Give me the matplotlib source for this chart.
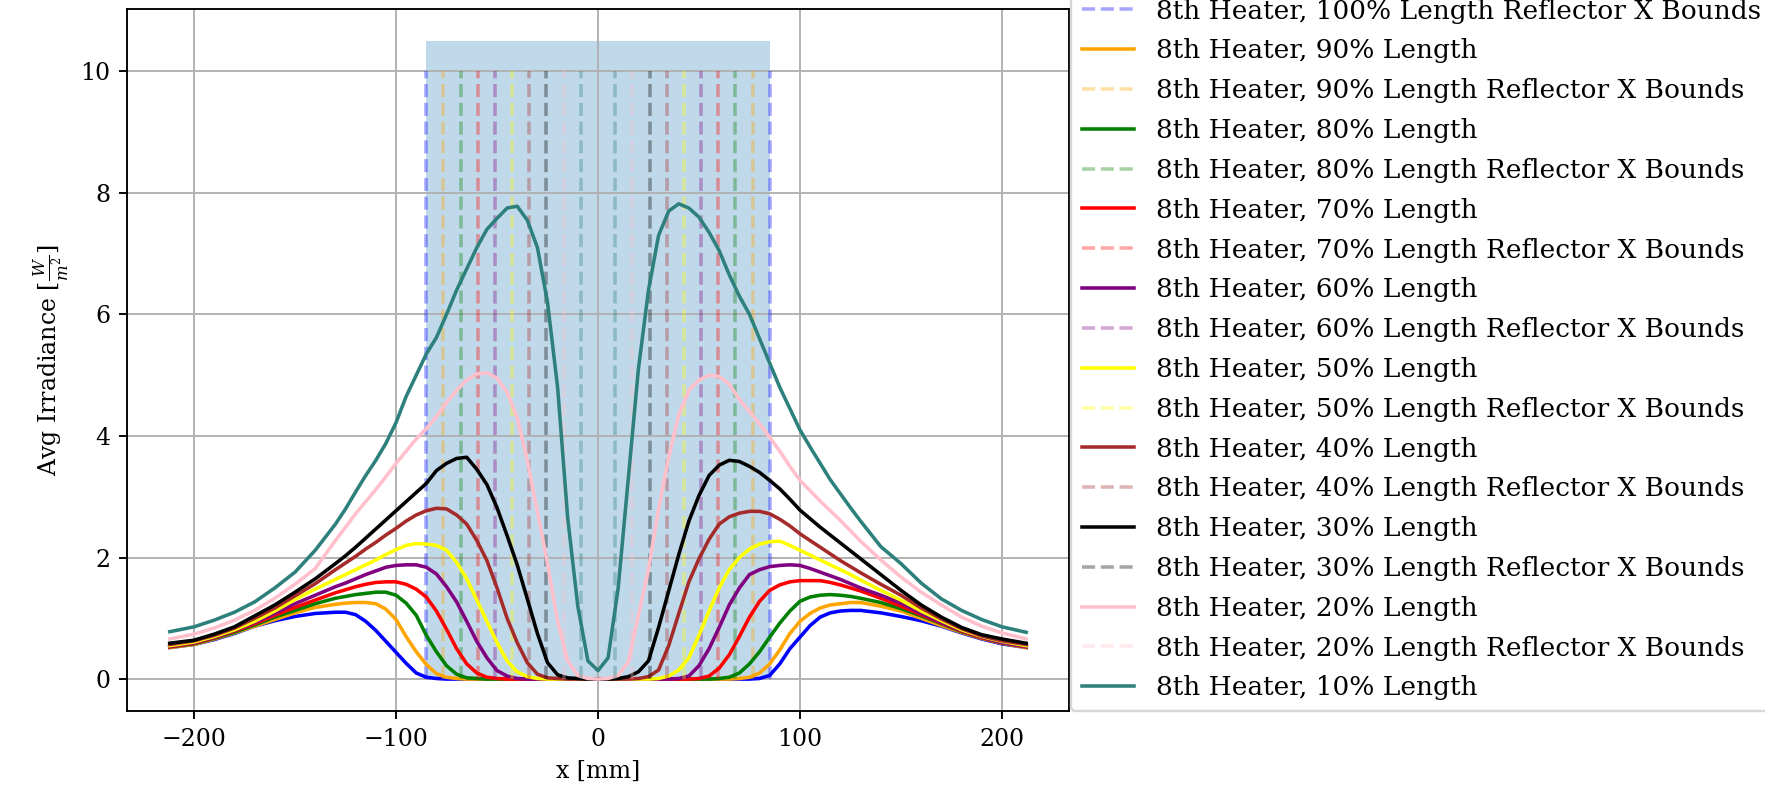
import matplotlib
matplotlib.use("Agg")
import matplotlib.pyplot as plt

plt.rcParams['font.family'] = ['DejaVu Serif']
plt.rcParams['mathtext.fontset'] = 'dejavuserif'

# x positions (mm) shared by all series
x_mm = [-212, -200, -190, -180, -170, -160, -150, -140, -130,
        -125, -120, -115, -110, -105, -100, -95, -90, -85, -80, -75, -70, -65, -60, -55, -50,
        -45, -40, -35, -30, -25, -20, -15, -10, -5,
        0,
        5, 10, 15, 20, 25, 30, 35, 40, 45, 50, 55, 60, 65, 70, 75, 80, 85, 90, 95, 100,
        105, 110, 115, 120, 125,
        130, 140, 150, 160, 170, 180, 190, 200, 212]

lengths = [100, 90, 80, 70, 60, 50, 40, 30, 20, 10]
colors = ['blue', 'orange', 'green', 'red', 'purple', 'yellow', 'brown', 'black', 'pink', '#2e807c']
reflector_half_width = 85  # mm at 100% length

irr_100 = [0.52, 0.57, 0.65, 0.75, 0.87, 0.96, 1.03, 1.08, 1.10,
           1.10, 1.06, 0.95, 0.80, 0.62, 0.44, 0.26, 0.10, 0.03, 0.01, 0, 0, 0, 0, 0, 0,
           0, 0, 0, 0, 0, 0, 0, 0, 0,
           0,
           0, 0, 0, 0, 0, 0, 0, 0, 0, 0, 0, 0, 0, 0, 0, 0.01, 0.06, 0.25, 0.50, 0.69,
           0.88, 1.02, 1.09, 1.12, 1.13,
           1.13, 1.09, 1.03, 0.96, 0.87, 0.76, 0.66, 0.58, 0.52]
irr_90 = [0.52, 0.57, 0.66, 0.76, 0.87, 0.98, 1.09, 1.18, 1.23,
          1.25, 1.26, 1.26, 1.24, 1.15, 0.98, 0.70, 0.45, 0.24, 0.09, 0.03, 0.01, 0, 0, 0, 0,
          0, 0, 0, 0, 0, 0, 0, 0, 0,
          0,
          0, 0, 0, 0, 0, 0, 0, 0, 0, 0, 0, 0, 0, 0.01, 0.03, 0.10, 0.25, 0.48, 0.75, 0.95,
          1.08, 1.17, 1.22, 1.24, 1.26,
          1.26, 1.20, 1.12, 1.00, 0.88, 0.77, 0.67, 0.59, 0.52]
irr_80 = [0.53, 0.58, 0.67, 0.77, 0.89, 1.02, 1.13, 1.24, 1.33,
          1.36, 1.39, 1.41, 1.43, 1.43, 1.38, 1.25, 1.05, 0.72, 0.45, 0.22, 0.08, 0.02, 0.01, 0, 0,
          0, 0, 0, 0, 0, 0, 0, 0, 0,
          0,
          0, 0, 0, 0, 0, 0, 0, 0, 0, 0, 0, 0.01, 0.03, 0.10, 0.25, 0.45, 0.69, 0.92, 1.12, 1.28,
          1.35, 1.38, 1.39, 1.38, 1.36,
          1.33, 1.26, 1.16, 1.04, 0.91, 0.78, 0.68, 0.60, 0.53]
irr_70 = [0.53, 0.59, 0.68, 0.79, 0.91, 1.05, 1.18, 1.30, 1.42,
          1.47, 1.52, 1.56, 1.59, 1.60, 1.60, 1.56, 1.48, 1.35, 1.12, 0.82, 0.50, 0.25, 0.10, 0.03, 0.01,
          0, 0, 0, 0, 0, 0, 0, 0, 0,
          0,
          0, 0, 0, 0, 0, 0, 0, 0, 0, 0.01, 0.05, 0.18, 0.40, 0.70, 1.02, 1.28, 1.46, 1.55, 1.60, 1.62,
          1.62, 1.62, 1.59, 1.55, 1.50,
          1.45, 1.33, 1.20, 1.06, 0.92, 0.79, 0.68, 0.60, 0.53]
irr_60 = [0.54, 0.60, 0.69, 0.80, 0.93, 1.08, 1.24, 1.38, 1.52,
          1.58, 1.65, 1.72, 1.78, 1.84, 1.87, 1.88, 1.88, 1.84, 1.73, 1.52, 1.27, 0.95, 0.62, 0.35, 0.14,
          0.05, 0.01, 0, 0, 0, 0, 0, 0, 0,
          0,
          0, 0, 0, 0, 0, 0, 0, 0.01, 0.05, 0.22, 0.50, 0.85, 1.22, 1.50, 1.72, 1.80, 1.85, 1.87, 1.88, 1.87,
          1.82, 1.76, 1.70, 1.64, 1.57,
          1.50, 1.38, 1.25, 1.08, 0.93, 0.80, 0.69, 0.60, 0.54]
irr_50 = [0.55, 0.61, 0.70, 0.81, 0.95, 1.12, 1.31, 1.48, 1.64,
          1.72, 1.80, 1.88, 1.96, 2.05, 2.13, 2.20, 2.23, 2.22, 2.20, 2.12, 1.92, 1.65, 1.30, 0.95, 0.60,
          0.30, 0.12, 0.04, 0.01, 0, 0, 0, 0, 0,
          0,
          0, 0, 0, 0, 0, 0.01, 0.05, 0.15, 0.35, 0.72, 1.12, 1.50, 1.80, 2.00, 2.14, 2.22, 2.26, 2.27, 2.20, 2.12,
          2.04, 1.96, 1.88, 1.80, 1.72,
          1.63, 1.46, 1.30, 1.12, 0.96, 0.81, 0.70, 0.62, 0.55]
irr_40 = [0.57, 0.63, 0.72, 0.84, 1.00, 1.17, 1.37, 1.57, 1.80,
          1.91, 2.02, 2.14, 2.25, 2.37, 2.48, 2.60, 2.70, 2.77, 2.81, 2.80, 2.70, 2.55, 2.28, 1.95, 1.50,
          1.00, 0.60, 0.27, 0.08, 0.02, 0.01, 0, 0, 0,
          0,
          0, 0, 0, 0.01, 0.04, 0.15, 0.55, 1.08, 1.60, 1.98, 2.30, 2.55, 2.67, 2.73, 2.76, 2.76, 2.72, 2.63, 2.52, 2.39,
          2.28, 2.17, 2.06, 1.95, 1.85,
          1.75, 1.56, 1.38, 1.17, 0.99, 0.83, 0.71, 0.63, 0.57]
irr_30 = [0.59, 0.64, 0.74, 0.86, 1.04, 1.22, 1.43, 1.65, 1.90,
          2.03, 2.17, 2.32, 2.47, 2.62, 2.77, 2.92, 3.07, 3.22, 3.43, 3.55, 3.63, 3.65, 3.45, 3.20, 2.82,
          2.36, 1.88, 1.32, 0.75, 0.27, 0.07, 0.02, 0.01, 0,
          0,
          0, 0.01, 0.04, 0.12, 0.30, 0.85, 1.45, 2.05, 2.60, 3.02, 3.35, 3.52, 3.60, 3.58, 3.50, 3.40, 3.27, 3.13, 2.96, 2.78,
          2.64, 2.50, 2.37, 2.24, 2.11,
          1.98, 1.72, 1.46, 1.22, 1.02, 0.85, 0.73, 0.66, 0.59]
irr_20 = [0.66, 0.74, 0.84, 0.97, 1.13, 1.33, 1.56, 1.82, 2.28,
          2.50, 2.72, 2.92, 3.12, 3.33, 3.55, 3.75, 3.95, 4.12, 4.32, 4.55, 4.75, 4.92, 5.02, 5.04, 4.95,
          4.72, 4.30, 3.60, 2.75, 1.90, 0.95, 0.30, 0.06, 0.01,
          0,
          0.01, 0.06, 0.28, 1.05, 1.80, 2.80, 3.65, 4.35, 4.75, 4.92, 5.00, 4.98, 4.85, 4.60, 4.40, 4.20, 3.98, 3.75, 3.50, 3.27,
          3.10, 2.93, 2.77, 2.61, 2.44,
          2.27, 1.96, 1.68, 1.43, 1.22, 1.02, 0.87, 0.76, 0.66]
irr_10 = [0.78, 0.86, 0.97, 1.10, 1.27, 1.50, 1.76, 2.12, 2.55,
          2.80, 3.08, 3.35, 3.60, 3.88, 4.22, 4.65, 5.00, 5.35, 5.62, 6.00, 6.40, 6.75, 7.10, 7.40, 7.58,
          7.75, 7.78, 7.55, 7.10, 6.20, 4.80, 2.65, 1.20, 0.30,
          0.14,
          0.35, 1.50, 3.30, 5.10, 6.40, 7.30, 7.70, 7.82, 7.75, 7.60, 7.35, 7.05, 6.65, 6.30, 6.00, 5.60, 5.20, 4.80, 4.45, 4.10,
          3.82, 3.55, 3.28, 3.05, 2.82,
          2.60, 2.18, 1.90, 1.58, 1.32, 1.13, 0.98, 0.86, 0.77]

series = [irr_100, irr_90, irr_80, irr_70, irr_60, irr_50, irr_40, irr_30, irr_20, irr_10]

fig = plt.figure(figsize=(1765 / 170, 794 / 170), dpi=170)
ax = fig.add_axes([127 / 1765, 83 / 794, (1069 - 127) / 1765, (785 - 83) / 794])

ax.fill_between([-reflector_half_width, reflector_half_width], 0, 10.5,
                color='C0', alpha=0.28, linewidth=0)

for pct, col, ys in zip(lengths, colors, series):
    ax.plot(x_mm, ys, color=col, label=f"8th Heater, {pct}% Length")
    b = reflector_half_width * pct / 100
    lab = f"8th Heater, {pct}% Length Reflector X Bounds" if pct != 10 else "_nolegend_"
    ax.vlines([-b, b], 0, 10, colors=col, linestyles='dashed', alpha=0.35, label=lab)

ax.grid(True)
ax.set_xlabel("x [mm]")
ax.set_ylabel(r"Avg Irradiance [$\frac{W}{m^2}$]")
ax.set_xticks([-200, -100, 0, 100, 200])
ax.set_yticks([0, 2, 4, 6, 8, 10])

fig.legend(loc='lower left', bbox_to_anchor=(1071 / 1765, 83 / 794),
           bbox_transform=fig.transFigure, borderaxespad=0, fontsize=11.2,
           labelspacing=0.56)

fig.savefig("out.png", dpi=170)
